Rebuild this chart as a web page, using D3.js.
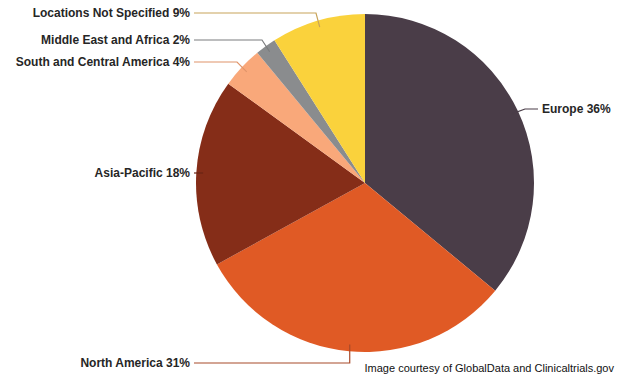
<!DOCTYPE html>
<html>
<head>
<meta charset="utf-8">
<script src="https://cdn.jsdelivr.net/npm/d3@7/dist/d3.min.js"></script>
<style>
  body { margin: 0; background: #fff; }
  svg { display: block; }
</style>
</head>
<body>
<svg id="chart" width="620" height="376"></svg>
<script>
// regions, shares (%) and slice colours
const regions = ['Europe', 'North America', 'Asia-Pacific', 'South and Central America', 'Middle East and Africa', 'Locations Not Specified']
const shares = [36, 31, 18, 4, 2, 9]
const sliceColors = ['#4a3d48', '#e05a25', '#852d18', '#f9a87a', '#8a8c8e', '#fad23c']
const lineColors = ['#4a3d48', '#a84a2a', '#6a2414', '#e0946a', '#7a7c7e', '#c8a45a']

// where each label sits (elbow x / label y), kept apart from the data
const labelLayout = [
	{side: 'right', elbowX: 525, y: 109},
	{side: 'bottom', elbowX: null, y: 363},
	{side: 'left', elbowX: null, y: 173},
	{side: 'left', elbowX: 237, y: 62},
	{side: 'left', elbowX: 262, y: 40},
	{side: 'left', elbowX: 316, y: 13}
]

const cx = 365, cy = 183, r = 169

let svg = d3.select('#chart')

let data = regions.map((name, i) => ({name: name, value: shares[i], color: sliceColors[i], line: lineColors[i], layout: labelLayout[i]}))

let pie = d3.pie().sort(null).value(d => d.value)
let arc = d3.arc().innerRadius(0).outerRadius(r)
let innerArc = d3.arc().innerRadius(r * 0.96).outerRadius(r * 0.96)

let arcs = pie(data)

let g = svg.append('g').attr('transform', 'translate(' + cx + ',' + cy + ')')

g.selectAll('.slice')
	.data(arcs)
	.enter()
	.append('path')
	.attr('class', 'slice')
	.attr('d', arc)
	.attr('fill', d => d.data.color)

// leader lines
let labelX = 190
svg.selectAll('.leader')
	.data(arcs)
	.enter()
	.append('polyline')
	.attr('class', 'leader')
	.attr('fill', 'none')
	.attr('stroke', d => d.data.line)
	.attr('stroke-width', 1.2)
	.attr('points', function(d){
		let c = innerArc.centroid(d)
		let px = c[0] + cx, py = c[1] + cy
		let L = d.data.layout
		if(L.side == 'right'){
			return [[px, py], [L.elbowX, L.y], [538, L.y]].join(' ')
		}
		else if(L.side == 'bottom'){
			return [[px, py], [px, L.y], [labelX + 4, L.y]].join(' ')
		}
		else if(L.elbowX == null){
			return [[px, L.y], [labelX + 4, L.y]].join(' ')
		}
		return [[px, py], [L.elbowX, L.y], [labelX + 4, L.y]].join(' ')
	})

svg.selectAll('.label')
	.data(arcs)
	.enter()
	.append('text')
	.attr('class', 'label')
	.attr('x', d => d.data.layout.side == 'right' ? 542 : labelX)
	.attr('y', d => d.data.layout.y)
	.attr('dy', '0.36em')
	.attr('text-anchor', d => d.data.layout.side == 'right' ? 'start' : 'end')
	.attr('font-family', 'Liberation Sans, Arial, sans-serif')
	.attr('font-weight', 'bold')
	.attr('font-size', 12)
	.attr('fill', '#262626')
	.text(d => d.data.name + ' ' + d.data.value + '%')

svg.append('text')
	.attr('x', 614)
	.attr('y', 368)
	.attr('dy', '0.36em')
	.attr('text-anchor', 'end')
	.attr('font-family', 'Liberation Sans, Arial, sans-serif')
	.attr('font-size', 11)
	.attr('fill', '#111')
	.text('Image courtesy of GlobalData and Clinicaltrials.gov')
</script>
</body>
</html>
